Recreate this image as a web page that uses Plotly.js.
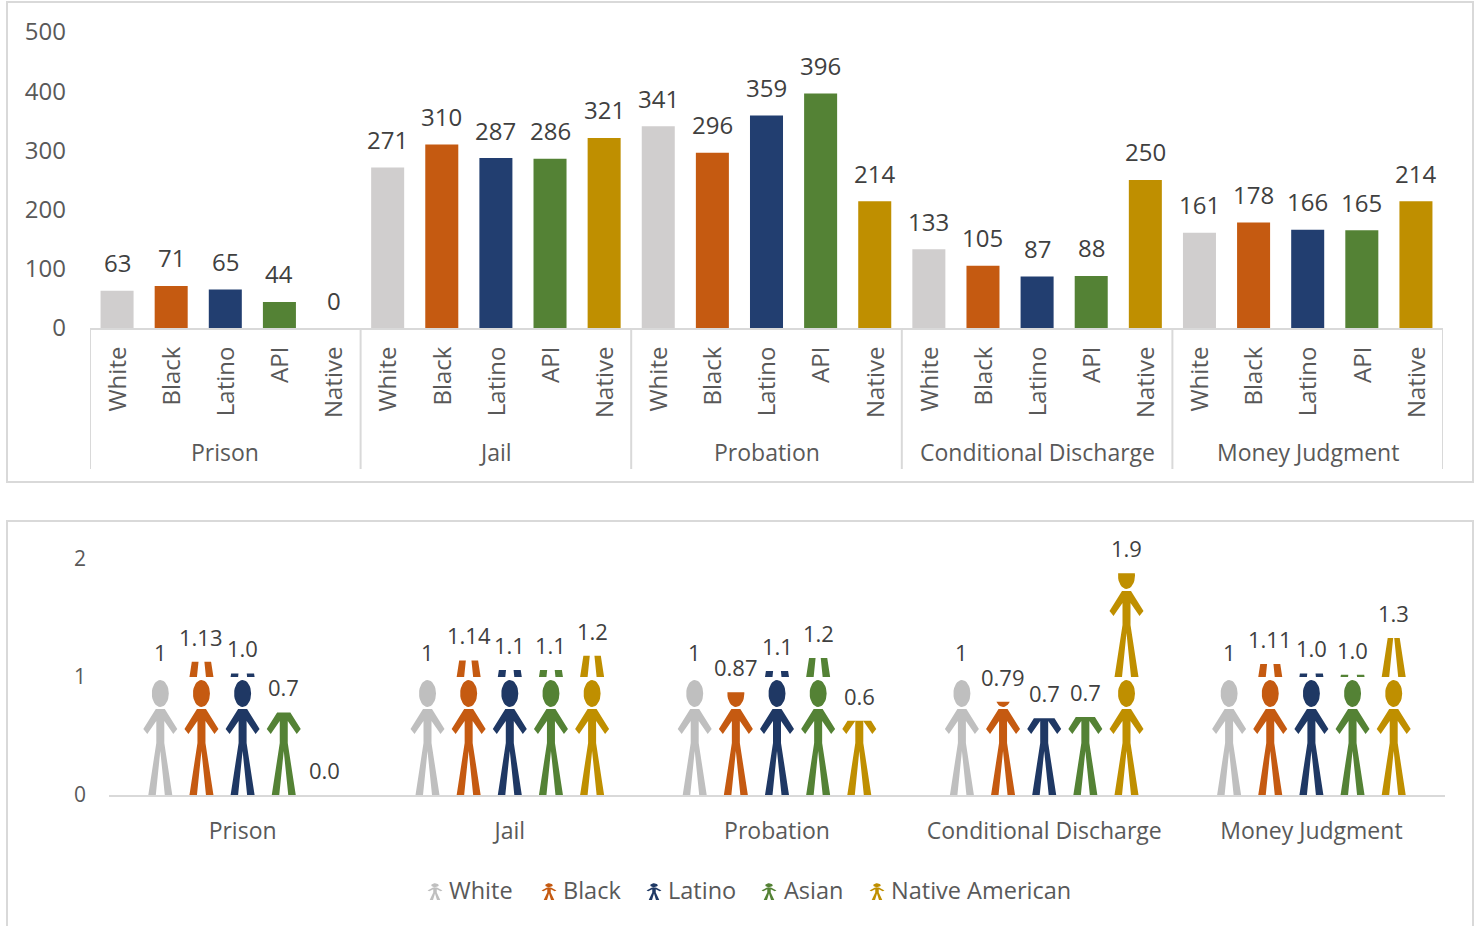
<!DOCTYPE html>
<html><head><meta charset="utf-8">
<script src="https://cdn.plot.ly/plotly-3.0.1.min.js"></script>
<style>html,body{margin:0;padding:0;background:#fff;overflow:hidden}#c{width:1478px;height:926px}</style>
</head><body><div id="c"></div>
<script>
var groups = ["Prison","Jail","Probation","Conditional Discharge","Money Judgment"];
var barCategories = ["White","Black","Latino","API","Native"];
var whiteCounts  = [63,271,341,133,161];
var blackCounts  = [71,310,296,105,178];
var latinoCounts = [65,287,359,87,166];
var apiCounts    = [44,286,396,88,165];
var nativeCounts = [0,321,214,250,214];

var seriesNames = ["White","Black","Latino","Asian","Native American"];
var whiteRatio  = [1,1,1,1,1];
var blackRatio  = [1.13,1.14,0.87,0.79,1.11];
var latinoRatio = [1.03,1.06,1.05,0.65,1.03];
var asianRatio  = [0.70,1.06,1.16,0.66,1.02];
var nativeRatio = [0,1.18,0.63,1.88,1.33];
var whiteLabels  = ["1","1","1","1","1"];
var blackLabels  = ["1.13","1.14","0.87","0.79","1.11"];
var latinoLabels = ["1.0","1.1","1.1","0.7","1.0"];
var asianLabels  = ["0.7","1.1","1.2","0.7","1.0"];
var nativeLabels = ["0.0","1.2","0.6","1.9","1.3"];

var barColors = ["#D0CECE","#C55A11","#223E70","#548235","#BF8F00"];
var figColors = ["#BFBFBF","#C55A11","#1F3864","#548235","#BF8F00"];

var W=1478,H=926, FONT='"Open Sans", sans-serif';
function px(x){return x/W;} function py(y){return (H-y)/H;}

var counts=[whiteCounts,blackCounts,latinoCounts,apiCounts,nativeCounts];
var ratios=[whiteRatio,blackRatio,latinoRatio,asianRatio,nativeRatio];
var ratioLabels=[whiteLabels,blackLabels,latinoLabels,asianLabels,nativeLabels];

/* stick-figure outline, px relative to the figure's foot centre */
var UNIT=118, GROUP_PX=267.2, SLOT=0.154;
var bodyShape=[[-4.5,86],[-17,66],[-13,61],[-4,74],[-4,52],[-12,0],[-4.5,0],[0,44],[4.5,0],[12,0],[4,52],[4,74],[13,61],[17,66],[4.5,86]];
var headShape=[];
for(var a=0;a<32;a++){headShape.push([8.5*Math.cos(a/32*2*Math.PI),101.5+13.5*Math.sin(a/32*2*Math.PI)]);}

function clipTop(poly,maxY){
  var out=[];
  for(var i=0;i<poly.length;i++){
    var p=poly[i],q=poly[(i+1)%poly.length];
    var pin=p[1]<=maxY,qin=q[1]<=maxY;
    if(pin) out.push(p);
    if(pin!==qin){var t=(maxY-p[1])/(q[1]-p[1]);out.push([p[0]+t*(q[0]-p[0]),maxY]);}
  }
  return out;
}
function pushPoly(xs,ys,poly,fx,fy){
  if(poly.length<3) return;
  poly.forEach(function(p){xs.push(fx(p[0]));ys.push(fy(p[1]));});
  xs.push(fx(poly[0][0]));ys.push(fy(poly[0][1]));
  xs.push(null);ys.push(null);
}

var traces=[],annotations=[],shapes=[];

/* top bars */
counts.forEach(function(vals,s){
  var xs=vals.map(function(v,g){return g*5+s+0.5;});
  traces.push({type:'bar',name:barCategories[s],x:xs,y:vals,width:0.61,
    marker:{color:barColors[s],line:{width:0}},showlegend:false,hoverinfo:'x+y',xaxis:'x',yaxis:'y'});
  vals.forEach(function(v,g){
    annotations.push({xref:'x',yref:'y',x:xs[g],y:v,yshift:28,text:String(v),showarrow:false,
      font:{family:FONT,size:24,color:'#404040'}});
  });
});
var barTickVals=[],barTickText=[];
groups.forEach(function(g,i){
  barCategories.forEach(function(c,j){barTickVals.push(i*5+j+0.5);barTickText.push(c);});
  annotations.push({xref:'x',yref:'paper',x:i*5+2.5,y:py(452),yanchor:'middle',text:g,showarrow:false,
    font:{family:FONT,size:23,color:'#595959'}});
});
for(var k=0;k<=5;k++){
  shapes.push({type:'line',xref:'x',yref:'paper',x0:k*5,x1:k*5,y0:py(328),y1:py(469),line:{color:'#D9D9D9',width:2}});
}

/* pictograph */
ratios.forEach(function(vals,s){
  var xs=[],ys=[];
  vals.forEach(function(v,g){
    var cx=g+0.5+(s-2)*SLOT;
    var n=Math.ceil(v);
    for(var i=0;i<n;i++){
      var frac=Math.min(1,v-i), maxPx=frac*UNIT;
      var fx=function(d){return cx+d/GROUP_PX;};
      var fy=(function(base){return function(d){return base+d/UNIT;};})(i);
      pushPoly(xs,ys,clipTop(bodyShape,maxPx),fx,fy);
      pushPoly(xs,ys,clipTop(headShape,maxPx),fx,fy);
    }
    annotations.push({xref:'x2',yref:'y2',x:cx,y:v,yshift:25,text:ratioLabels[s][g],showarrow:false,
      font:{family:FONT,size:22,color:'#404040'}});
  });
  traces.push({type:'scatter',mode:'lines',name:seriesNames[s],x:xs,y:ys,fill:'toself',fillcolor:figColors[s],
    line:{width:0,color:figColors[s]},showlegend:false,hoverinfo:'name',xaxis:'x2',yaxis:'y2'});
});

/* legend: miniature figures and names */
var legendIconX=[435,549,654,769,877], legendTextX=[447,561,666,782,889], ICON_X=0.44, ICON_Y=0.145;
seriesNames.forEach(function(name,s){
  var xs=[],ys=[];
  var fx=function(d){return legendIconX[s]+d*ICON_X;};
  var fy=function(d){return 900-d*ICON_Y;};
  pushPoly(xs,ys,bodyShape,fx,fy);pushPoly(xs,ys,headShape,fx,fy);
  traces.push({type:'scatter',mode:'lines',name:name+' key',x:xs,y:ys,fill:'toself',fillcolor:figColors[s],
    line:{width:0,color:figColors[s]},showlegend:false,hoverinfo:'skip',xaxis:'x3',yaxis:'y3'});
  annotations.push({xref:'paper',yref:'paper',x:px(legendTextX[s]),y:py(890),xanchor:'left',yanchor:'middle',text:name,showarrow:false,
    font:{family:FONT,size:23.5,color:'#595959'}});
});

/* chart frames */
shapes.push({type:'rect',xref:'paper',yref:'paper',x0:px(7),x1:px(1473),y0:py(2),y1:py(482),line:{color:'#D9D9D9',width:2},layer:'below'});
shapes.push({type:'rect',xref:'paper',yref:'paper',x0:px(7),x1:px(1473),y0:py(960),y1:py(521),line:{color:'#D9D9D9',width:2},layer:'below'});

var layout={
  width:W,height:H,autosize:false,margin:{l:0,r:0,t:0,b:0},
  paper_bgcolor:'#fff',plot_bgcolor:'rgba(0,0,0,0)',showlegend:false,
  font:{family:FONT,color:'#595959'},
  xaxis:{domain:[px(90),px(1443)],anchor:'y',range:[0,25],tickmode:'array',tickvals:barTickVals,ticktext:barTickText,
    tickangle:-90,ticks:'',showgrid:false,zeroline:false,showline:true,linecolor:'#D9D9D9',linewidth:2,
    tickfont:{family:FONT,size:24,color:'#595959'},ticklabelstandoff:7,ticklabelshift:1},
  yaxis:{domain:[py(328),py(32)],anchor:'x',range:[0,500],tickvals:[0,100,200,300,400,500],ticks:'',showgrid:false,zeroline:false,showline:false,
    tickfont:{family:FONT,size:24,color:'#595959'},ticklabelstandoff:23},
  xaxis2:{domain:[px(109),px(1445)],anchor:'y2',range:[0,5],tickmode:'array',tickvals:[0.5,1.5,2.5,3.5,4.5],ticktext:groups,
    ticks:'',showgrid:false,zeroline:false,showline:true,linecolor:'#D9D9D9',linewidth:2,
    tickfont:{family:FONT,size:23,color:'#595959'},ticklabelstandoff:14},
  yaxis2:{domain:[py(795),py(559)],anchor:'x2',range:[0,2],tickvals:[0,1,2],ticks:'',showgrid:false,zeroline:false,showline:false,
    tickfont:{family:FONT,size:21,color:'#595959'},ticklabelstandoff:22},
  xaxis3:{domain:[0,1],anchor:'y3',range:[0,W],visible:false,fixedrange:true},
  yaxis3:{domain:[0,1],anchor:'x3',range:[H,0],visible:false,fixedrange:true},
  annotations:annotations,shapes:shapes
};
Plotly.newPlot('c',traces,layout,{displayModeBar:false,responsive:false});
</script></body></html>
